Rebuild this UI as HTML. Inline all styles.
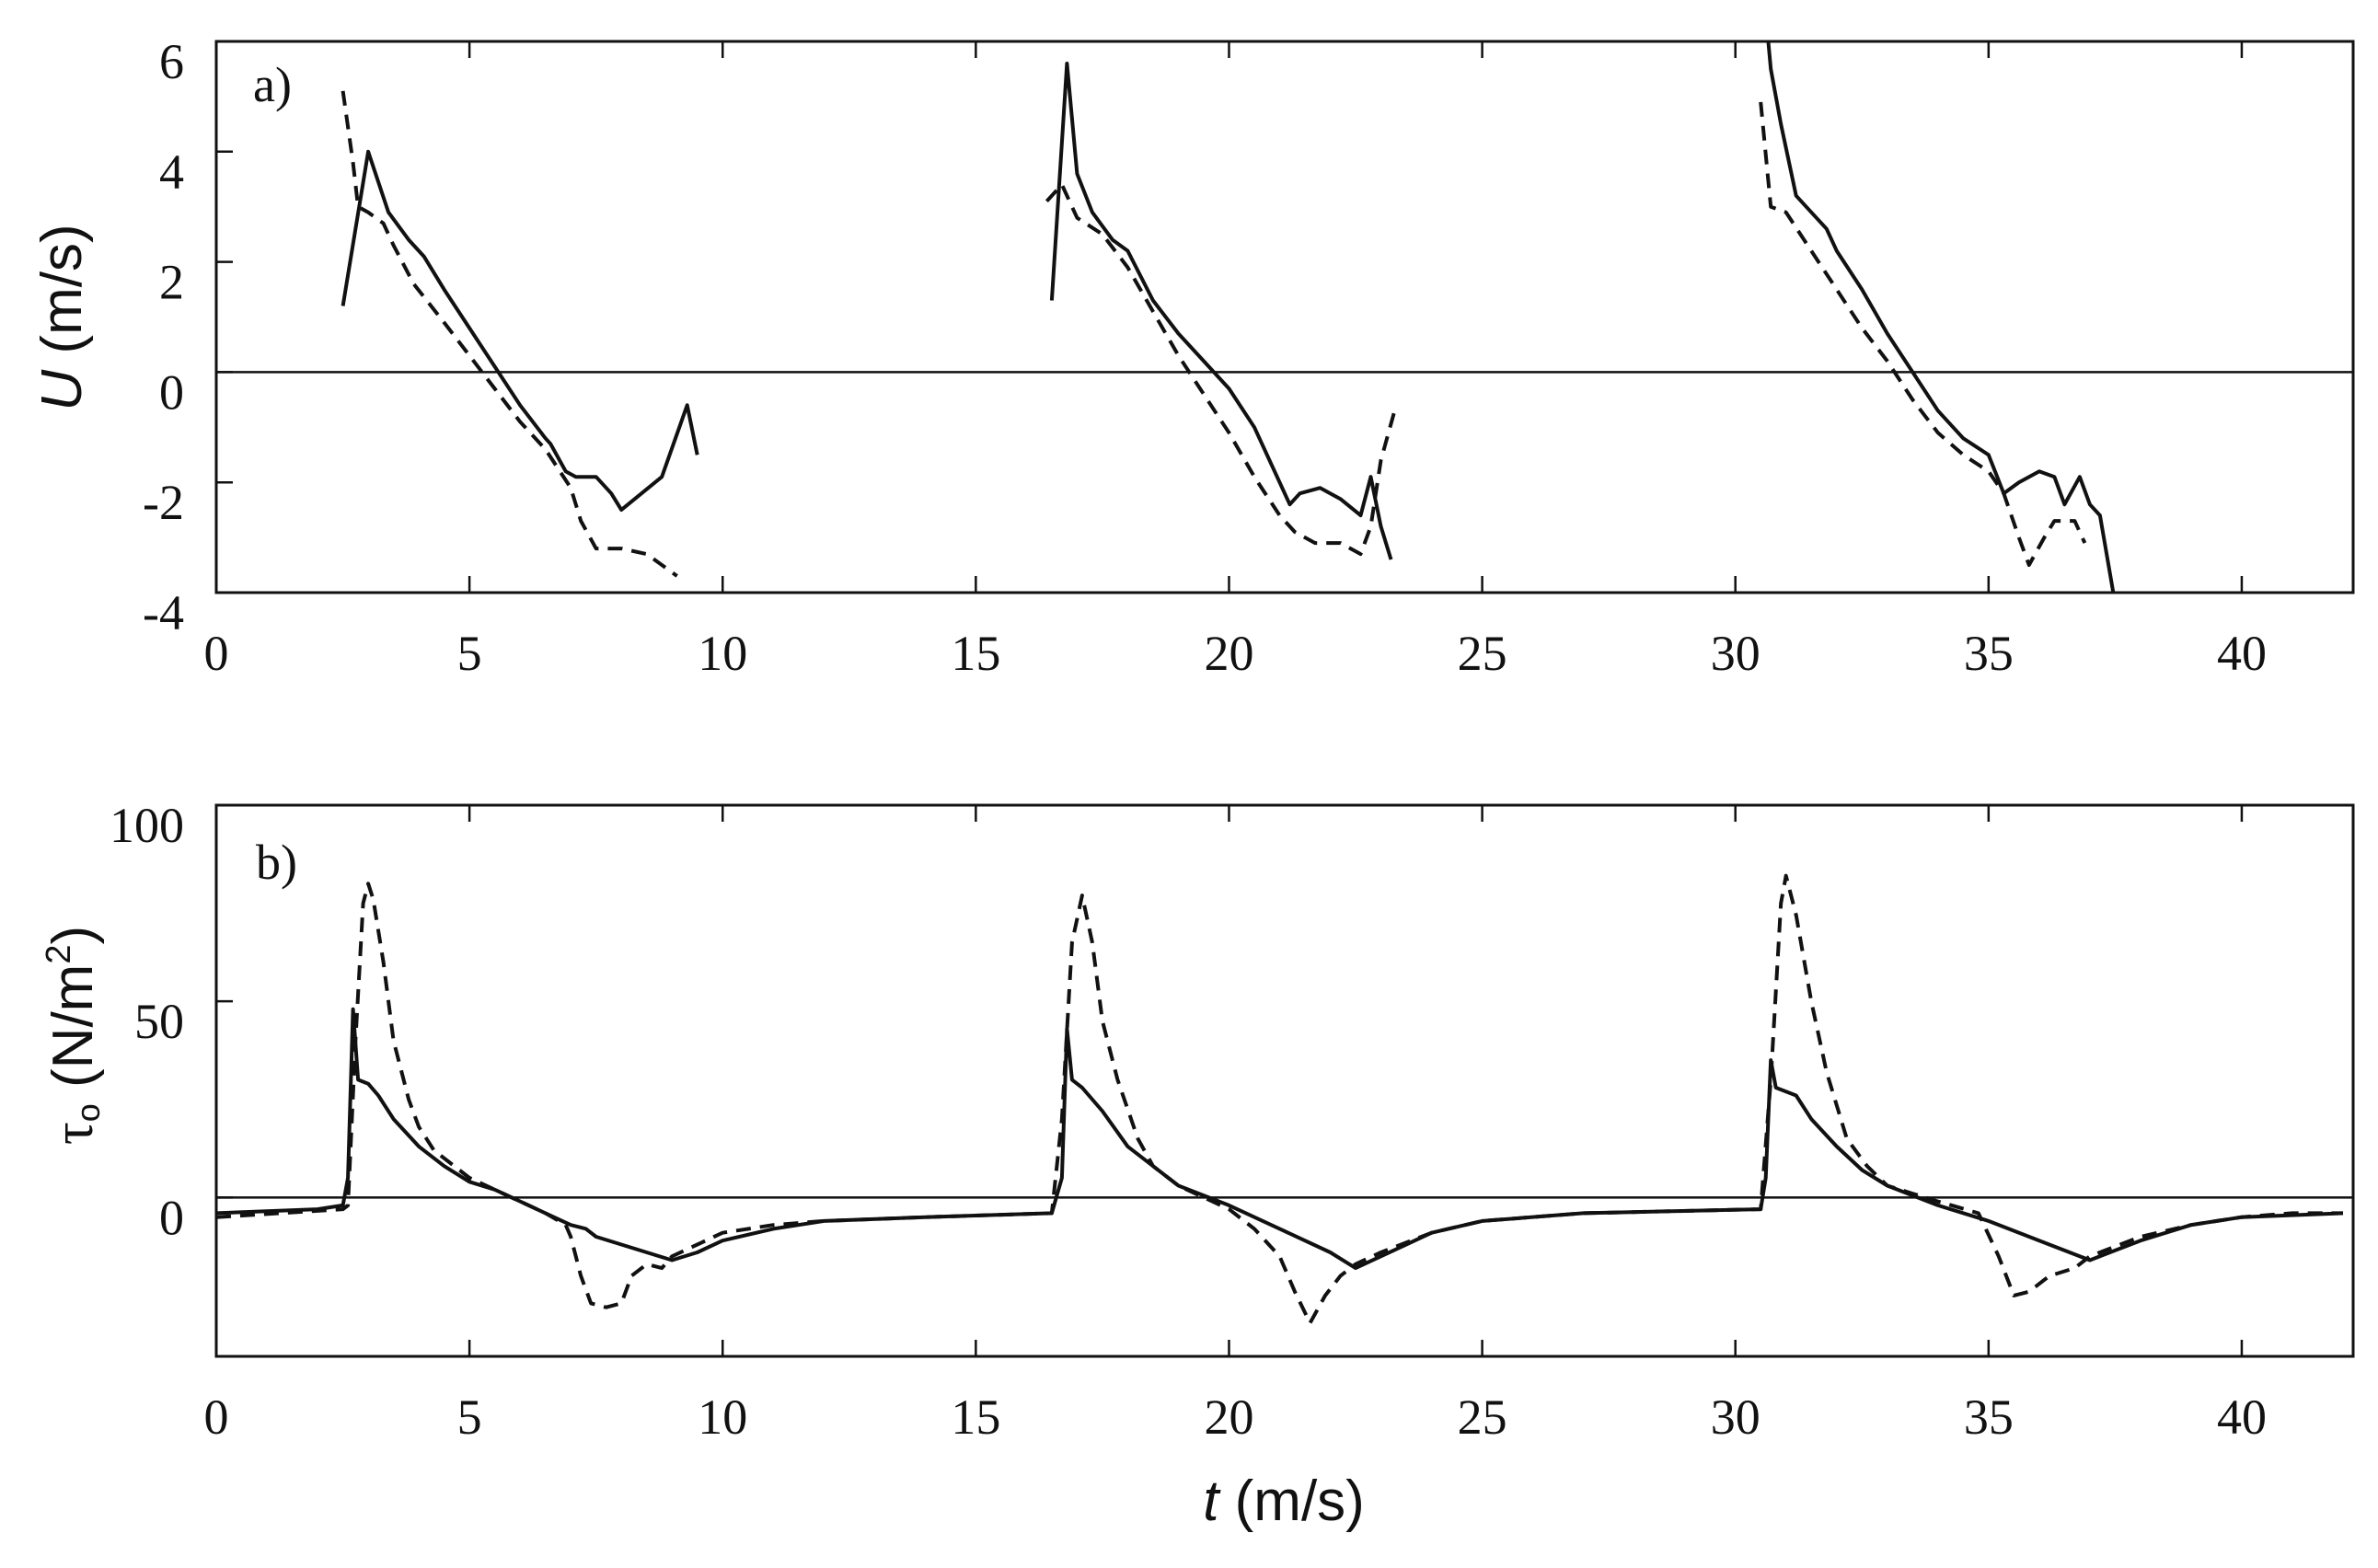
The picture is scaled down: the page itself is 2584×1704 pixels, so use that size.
<!DOCTYPE html>
<html><head><meta charset="utf-8"><style>
html,body{margin:0;padding:0;background:#fff;}
svg{display:block;}
text{font-family:"Liberation Serif",serif;fill:#111;}
.sans{font-family:"Liberation Sans",sans-serif;}
</style></head><body>
<svg id="chart" width="2584" height="1704" viewBox="0 0 2584 1704" xmlns="http://www.w3.org/2000/svg">
<defs>
<clipPath id="clipA"><rect x="235" y="45" width="2322" height="599"/></clipPath>
<clipPath id="clipB"><rect x="235" y="875" width="2322" height="599"/></clipPath>
</defs>
<g id="g"></g>
</svg>
<script>
// x-axis
const xTicks = [0,5,10,15,20,25,30,35,40];
const xTickLabels = ["0","5","10","15","20","25","30","35","40"];
// panel a
const uTicks = [6,4,2,0,-2,-4];
const uTickLabels = ["6","4","2","0","-2","-4"];
const uSolidT1 = [2.5,3.0,3.4,3.8,4.1,4.5,5,5.5,6,6.5,6.6,6.9,7.1,7.5,7.8,8.0,8.8,9.3,9.5];
const uSolidV1 = [1.2,4.0,2.9,2.4,2.1,1.5,0.8,0.1,-0.6,-1.2,-1.3,-1.8,-1.9,-1.9,-2.2,-2.5,-1.9,-0.6,-1.5];
const uDashT1 = [2.5,2.7,2.8,3.0,3.3,3.5,3.9,4.5,5,5.5,6,6.5,7.0,7.2,7.5,8.0,8.5,9.1];
const uDashV1 = [5.1,3.8,3.0,2.9,2.7,2.3,1.6,0.9,0.3,-0.3,-0.9,-1.4,-2.1,-2.7,-3.2,-3.2,-3.3,-3.7];
const uSolidT2 = [16.5,16.8,17.0,17.3,17.7,18.0,18.5,19,19.5,20,20.5,21.0,21.2,21.4,21.8,22.2,22.6,22.8,23.0,23.2];
const uSolidV2 = [1.3,5.6,3.6,2.9,2.4,2.2,1.3,0.7,0.2,-0.3,-1.0,-2.0,-2.4,-2.2,-2.1,-2.3,-2.6,-1.9,-2.8,-3.4];
const uDashT2 = [16.4,16.7,17.0,17.5,18,18.5,19,19.5,20,20.5,21,21.3,21.7,22.2,22.6,22.8,23.0,23.3];
const uDashV2 = [3.1,3.4,2.8,2.5,1.9,1.1,0.3,-0.4,-1.1,-1.9,-2.6,-2.9,-3.1,-3.1,-3.3,-2.8,-1.6,-0.6];
const uSolidT3 = [30.6,30.7,30.9,31.2,31.5,31.8,32,32.5,33,33.5,34,34.5,35,35.3,35.6,36,36.3,36.5,36.8,37.0,37.2,37.5];
const uSolidV3 = [6.5,5.5,4.5,3.2,2.9,2.6,2.2,1.5,0.7,0,-0.7,-1.2,-1.5,-2.2,-2.0,-1.8,-1.9,-2.4,-1.9,-2.4,-2.6,-4.2];
const uDashT3 = [30.5,30.7,31,31.5,32,32.5,33,33.5,34,34.5,35,35.3,35.6,35.8,36.1,36.3,36.7,36.9];
const uDashV3 = [4.9,3.0,2.9,2.2,1.5,0.8,0.2,-0.5,-1.1,-1.5,-1.8,-2.2,-3.0,-3.5,-3.0,-2.7,-2.7,-3.1];
// panel b
const tauTicks = [100,50,0];
const tauTickLabels = ["100","50","0"];
const tauSolidT = [0,2,2.5,2.6,2.7,2.8,3.0,3.2,3.5,4,4.5,5,5.5,6,6.5,7.0,7.3,7.5,8,8.5,9,9.5,10,11,12,14,16.5,16.7,16.8,16.9,17.1,17.5,18,18.5,19,20,21,22,22.5,23,24,25,27,30.5,30.6,30.7,30.8,31.2,31.5,32,32.5,33,34,35,36,37,38,39,40,42];
const tauSolidV = [-4,-3,-2,5,48,30,29,26,20,13,8,4,2,-1,-4,-7,-8,-10,-12,-14,-16,-14,-11,-8,-6,-5,-4,5,43,30,28,22,13,8,3,-2,-8,-14,-18,-15,-9,-6,-4,-3,5,35,28,26,20,13,7,3,-2,-6,-11,-16,-11,-7,-5,-4];
const tauDashT = [0,2.5,2.6,2.75,2.9,3.0,3.1,3.3,3.5,3.8,4.0,4.3,4.7,5,5.5,6,6.5,6.9,7.0,7.2,7.4,7.7,8.0,8.2,8.5,8.8,9.0,9.5,10,11,12,14,16.5,16.7,16.9,17.1,17.3,17.5,17.8,18.2,18.5,19,20,20.5,21,21.3,21.6,21.9,22.2,22.5,23,24,25,27,30.5,30.7,30.9,31.0,31.2,31.5,31.8,32.2,32.6,33,33.5,34,34.8,35.2,35.5,35.8,36.2,36.7,37,38,39,40,41,42];
const tauDashV = [-5,-3,-2,40,75,80,76,60,40,25,18,12,8,5,2,-1,-4,-7,-10,-20,-27,-28,-27,-20,-17,-18,-15,-12,-9,-7,-6,-5,-4,20,65,77,65,45,30,15,8,3,-3,-8,-15,-24,-32,-25,-20,-17,-14,-9,-6,-4,-3,30,75,82,72,50,32,15,8,3,1,-1,-4,-15,-25,-24,-20,-18,-15,-10,-7,-5,-4,-4];

const NS="http://www.w3.org/2000/svg";
const g=document.getElementById('g');
const L=235,R=2557,X0=0,X1=42.2;
function xs(t){return L+(t-X0)/(X1-X0)*(R-L);}
const ysA=v=>45+(6-v)/10*599;
const ysB=v=>875+(100-v)/140.5*599;
function el(tag,attrs,parent){const e=document.createElementNS(NS,tag);for(const k in attrs)e.setAttribute(k,attrs[k]);(parent||g).appendChild(e);return e;}
function txt(s,x,y,size,anchor,cls){const e=el('text',{x:x,y:y,'font-size':size,'text-anchor':anchor});if(cls)e.setAttribute('class',cls);e.textContent=s;return e;}

function panel(top,bot,ys,yt,ytl,clip,name){
  const frame=el('rect',{x:L,y:top,width:R-L,height:bot-top,fill:'none',stroke:'#111','stroke-width':3});
  
  
  xTicks.forEach((t,i)=>{
    const x=xs(t);
    el('line',{x1:x,y1:top,x2:x,y2:top+18,stroke:'#111','stroke-width':2.5});
    el('line',{x1:x,y1:bot,x2:x,y2:bot-18,stroke:'#111','stroke-width':2.5});
    const lab=txt(xTickLabels[i],x,bot+84,54,'middle');
    
    
  });
  yt.forEach((v,i)=>{
    const y=ys(v);
    el('line',{x1:L,y1:y,x2:L+18,y2:y,stroke:'#111','stroke-width':2.5});
    const lab=txt(ytl[i],200,y+40,54,'end');
    
    
  });
  const zl=el('line',{x1:L,y1:ys(0),x2:R,y2:ys(0),stroke:'#111','stroke-width':2.5});
  
  
}
function series(T,V,ys,dashed,clip,name){
  const d=T.map((t,i)=>(i?'L':'M')+xs(t).toFixed(1)+','+ys(V[i]).toFixed(1)).join(' ');
  const p=el('path',{d:d,fill:'none',stroke:'#111','stroke-width':4,'stroke-linejoin':'round','clip-path':'url(#'+clip+')'});
  if(dashed)p.setAttribute('stroke-dasharray','16 10');
  
  
}
panel(45,644,ysA,uTicks,uTickLabels,'clipA','panel-a');
panel(875,1474,ysB,tauTicks,tauTickLabels,'clipB','panel-b');
series(uSolidT1,uSolidV1,ysA,false,'clipA','u-solid-cycle-1');
series(uDashT1,uDashV1,ysA,true,'clipA','u-dashed-cycle-1');
series(uSolidT2,uSolidV2,ysA,false,'clipA','u-solid-cycle-2');
series(uDashT2,uDashV2,ysA,true,'clipA','u-dashed-cycle-2');
series(uSolidT3,uSolidV3,ysA,false,'clipA','u-solid-cycle-3');
series(uDashT3,uDashV3,ysA,true,'clipA','u-dashed-cycle-3');
series(tauSolidT,tauSolidV,ysB,false,'clipB','tau-solid');
series(tauDashT,tauDashV,ysB,true,'clipB','tau-dashed');

let a=txt('a)',275,110,54,'start');


let b=txt('b)',278,955,54,'start');



let yl=el('text',{x:0,y:0,'font-size':62,'text-anchor':'middle',class:'sans',transform:'translate(88,345) rotate(-90)'});
yl.innerHTML='<tspan font-style="italic">U</tspan> (m/s)';


let yl2=el('text',{x:0,y:0,'font-size':62,'text-anchor':'middle',class:'sans',transform:'translate(100,1125) rotate(-90)'});
yl2.innerHTML='<tspan font-family="Liberation Serif">τ</tspan><tspan font-size="36" dy="8">o</tspan><tspan dy="-8"> (N/m</tspan><tspan font-size="38" dy="-24">2</tspan><tspan dy="24">)</tspan>';


let xl=el('text',{x:1395,y:1652,'font-size':62,'text-anchor':'middle',class:'sans'});
xl.innerHTML='<tspan font-style="italic">t</tspan> (m/s)';


</script>
</body></html>
